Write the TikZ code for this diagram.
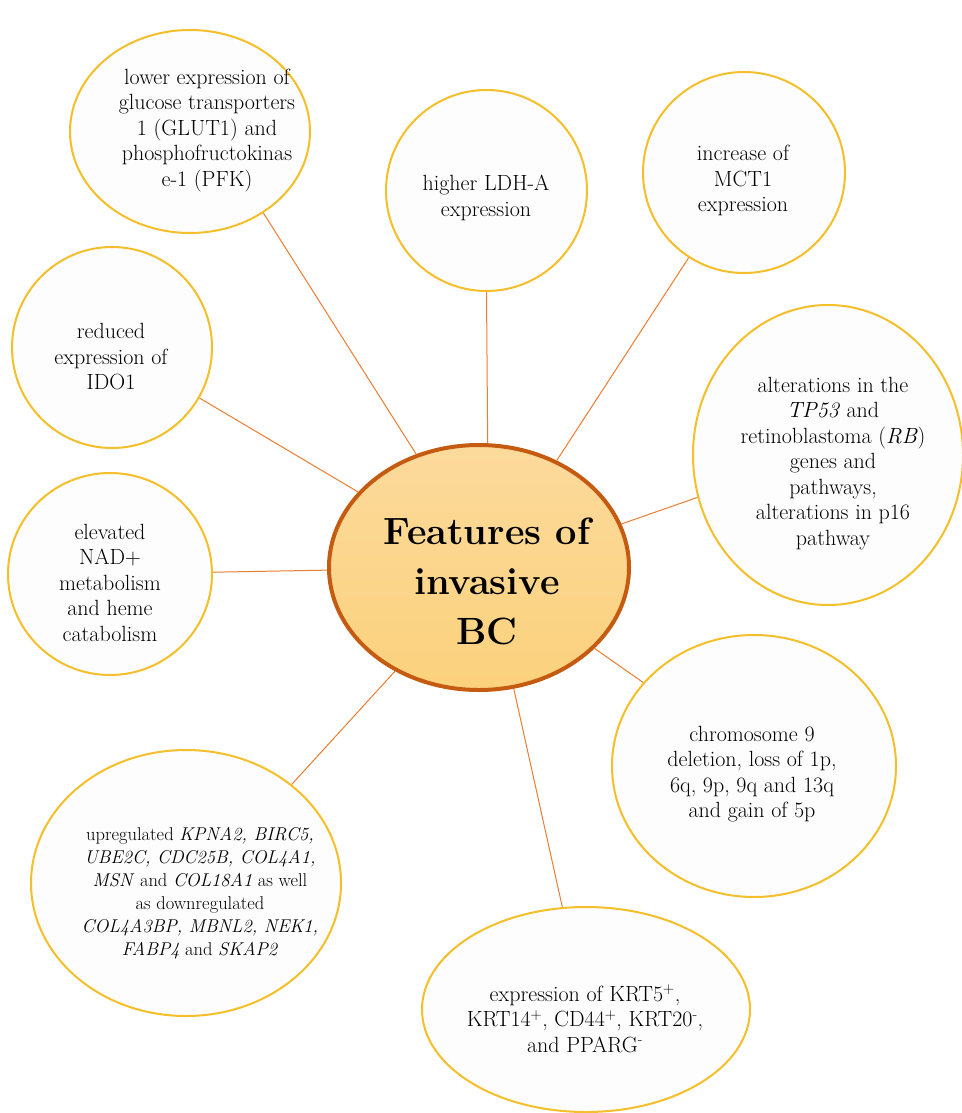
\documentclass[tikz,border=0pt]{standalone}
\usetikzlibrary{shapes.geometric}
\definecolor{ringyellow}{HTML}{F4BF2A}
\definecolor{linkorange}{HTML}{ED7D31}
\definecolor{hubborder}{HTML}{C55A11}
\definecolor{hubtop}{HTML}{FCDA9C}
\definecolor{hubbottom}{HTML}{FBD17C}
\definecolor{bubblefill}{HTML}{FDFDFD}
\begin{document}
\begin{tikzpicture}[x=1pt,y=-1pt,
  bubble/.style={ellipse, draw=ringyellow, line width=2pt, fill=bubblefill, inner sep=0pt},
  hub/.style={ellipse, draw=hubborder, line width=4pt, top color=hubtop, bottom color=hubbottom, inner sep=0pt, minimum width=300pt, minimum height=245pt},
  txt/.style={align=center, font=\fontsize{22}{25.5}\selectfont, inner sep=0pt},
  smalltxt/.style={align=center, font=\fontsize{18.5}{23}\selectfont, inner sep=0pt},
  hubtxt/.style={align=center, font=\fontsize{38}{50}\selectfont\bfseries, inner sep=0pt},
  link/.style={draw=linkorange, line width=1pt}]
\fill[white] (0,0) rectangle (961,1113);
\useasboundingbox (0,0) rectangle (961,1113);

\node[hub] (hub) at (479,567.5) {};
\node[bubble, minimum width=240pt, minimum height=203pt] (glut) at (190,131.5) {};
\node[bubble, minimum width=201pt, minimum height=201pt] (ldh) at (486.5,190.5) {};
\node[bubble, minimum width=202pt, minimum height=201pt] (mct) at (744,172.5) {};
\node[bubble, minimum width=200pt, minimum height=201pt] (ido) at (112,347.5) {};
\node[bubble, minimum width=204pt, minimum height=202pt] (nad) at (110,574) {};
\node[bubble, minimum width=270pt, minimum height=300pt] (tp) at (828,455) {};
\node[bubble, minimum width=284pt, minimum height=262pt] (chr) at (754,766) {};
\node[bubble, minimum width=310pt, minimum height=266pt] (kpna) at (186,883) {};
\node[bubble, minimum width=328pt, minimum height=205pt] (krt) at (586,1009.5) {};

\draw[link] (hub.119.1) -- (glut.-48.9);
\draw[link] (hub.86.7) -- (ldh.-90);
\draw[link] (hub.54.5) -- (mct.-123.4);
\draw[link] (hub.148) -- (ido.-30.9);
\draw[link] (hub.181) -- (nad.1);
\draw[link] (hub.17.6) -- (tp.-162.6);
\draw[link] (hub.-35.2) -- (chr.143.2);
\draw[link] (hub.-129.6) -- (kpna.43.5);
\draw[link] (hub.-74.2) -- (krt.103.3);

\node[hubtxt] (hubT) at (487,581) {Features of\\invasive\\BC};
\node[txt] (glutT) at (207,130.5) {lower expression of\\glucose transporters\\1 (GLUT1) and\\phosphofructokinas\\e-1 (PFK)};
\node[txt] (ldhT) at (486,198) {higher LDH-A\\expression};
\node[txt] (mctT) at (743,180.5) {increase of\\MCT1\\expression};
\node[txt] (idoT) at (111,357) {reduced\\expression of\\IDO1};
\node[txt] (nadT) at (110,582.5) {elevated\\NAD+\\metabolism\\and heme\\catabolism};
\node[txt] (tpT) at (833,463.5) {alterations in the\\\textit{TP53} and\\retinoblastoma (\textit{RB})\\genes and\\pathways,\\alterations in p16\\pathway};
\node[txt] (chrT) at (752,774) {chromosome 9\\deletion, loss of 1p,\\6q, 9p, 9q and 13q\\and gain of 5p};
\node[smalltxt] (kpnaT) at (200,893.5) {upregulated \textit{KPNA2, BIRC5,}\\\textit{UBE2C, CDC25B, COL4A1,}\\\textit{MSN} and \textit{COL18A1} as well\\as downregulated\\\textit{COL4A3BP, MBNL2, NEK1,}\\\textit{FABP4} and \textit{SKAP2}};
\node[txt] (krtT) at (585,1019) {expression of KRT5\textsuperscript{+},\\KRT14\textsuperscript{+}, CD44\textsuperscript{+}, KRT20\textsuperscript{-},\\and PPARG\textsuperscript{-}};
\end{tikzpicture}
\end{document}
